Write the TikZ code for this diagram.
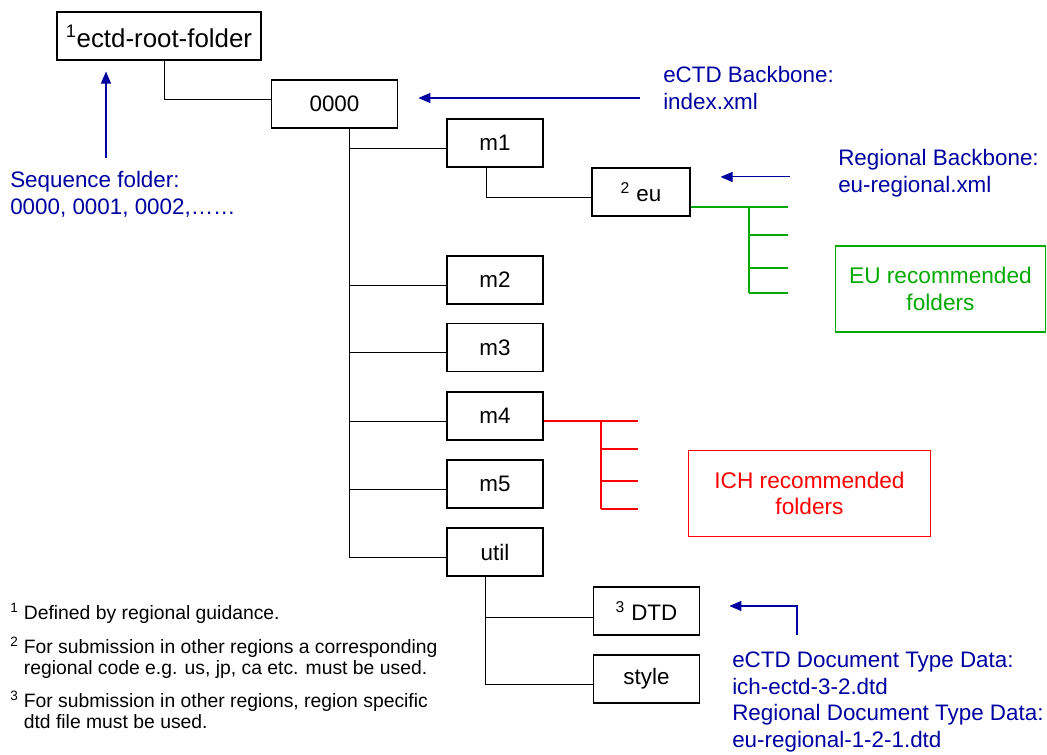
\documentclass[tikz,border=0pt]{standalone}
\usepackage{fontspec}
\setmainfont{Liberation Sans}
\usetikzlibrary{arrows.meta,positioning,calc}

\definecolor{notecol}{RGB}{0,0,160}
\definecolor{eucol}{RGB}{0,170,0}
\definecolor{ichcol}{RGB}{255,0,0}

\begin{document}
\begin{tikzpicture}[
    x=0.75pt, y=-0.75pt,
    folder/.style={rectangle, draw, line width=0.8pt, minimum height=36pt, inner sep=0pt, font=\fontsize{16.8}{19}\selectfont},
    mbox/.style={folder, minimum width=72pt},
    note/.style={anchor=west, align=left, inner sep=0pt, text=notecol, font=\fontsize{16.8}{20}\selectfont},
    pointer/.style={draw=notecol, line width=0.8pt, -{Triangle[length=9pt,width=7.5pt]}},
    tree/.style={line width=0.7pt},
    eutree/.style={draw=eucol, line width=0.9pt},
    ichtree/.style={draw=ichcol, line width=0.9pt},
    group/.style={rectangle, draw, line width=0.8pt, align=center, font=\fontsize{17}{20}\selectfont},
    foot/.style={anchor=west, align=left, inner sep=0pt, font=\fontsize{14.5}{15.75}\selectfont}
  ]
  \useasboundingbox (0,0) rectangle (1047,755);

  % folder boxes
  \node[folder, minimum width=153pt, font=\fontsize{19.4}{22}\selectfont] (root) at (159,36) {\textsuperscript{1}ectd-root-folder};
  \node[folder, minimum width=95pt] (seq) at (334.5,104) {0000};
  \node[mbox] (m1) at (495,143) {m1};
  \node[mbox] (m2) at (495,280) {m2};
  \node[mbox] (m3) at (495,347.5) {m3};
  \node[mbox] (m4) at (495,416) {m4};
  \node[mbox] (m5) at (495,484) {m5};
  \node[mbox] (util) at (495,552) {util};
  \node[folder, minimum width=73.5pt] (eu) at (641,192) {\textsuperscript{2} eu};
  \node[folder, minimum width=80pt] (dtd) at (646.5,611) {\textsuperscript{3} DTD};
  \node[folder, minimum width=80pt] (style) at (646.5,679) {style};

  % recommended sub-folder groups
  \node[group, draw=eucol, text=eucol, minimum width=157pt, minimum height=64.5pt] (eugroup) at (940.5,289) {EU recommended\\folders};
  \node[group, draw=ichcol, text=ichcol, minimum width=182pt, minimum height=65pt] (ichgroup) at (809.5,493.5) {ICH recommended\\folders};

  % tree lines
  \coordinate (trunk) at ($(seq.south)+(14.5,0)$);
  \draw[tree] ([xshift=3.75pt]root.south) |- ([yshift=3.75pt]seq.west);
  \foreach \f in {m1,m2,m3,m4,m5,util}
    \draw[tree] (trunk) |- ([yshift=-3.75pt]\f.west);
  \draw[tree] ([xshift=-6.75pt]m1.south) |- ([yshift=-3.75pt]eu.west);
  \draw[tree] ([xshift=-7.5pt]util.south) |- ([yshift=-5pt]dtd.west);
  \draw[tree] ([xshift=-7.5pt]util.south) |- ([yshift=-3.75pt]style.west);

  % eu sub-folders
  \coordinate (eufork) at (749,207);
  \draw[eutree] (eu.east |- eufork) -- (eufork) -- ++(0,86);
  \foreach \dy in {0,28,61,86}
    \draw[eutree] (eufork) ++(0,\dy) -- ++(39,0);

  % m4 sub-folders
  \coordinate (ichfork) at (601,421);
  \draw[ichtree] (m4.east |- ichfork) -- (ichfork) -- ++(0,88);
  \foreach \dy in {0,28,60,88}
    \draw[ichtree] (ichfork) ++(0,\dy) -- ++(37,0);

  % notes
  \node[note] (backbone) at (663,88) {eCTD Backbone:\\index.xml};
  \node[note] (regional) at (838,173.5) {Regional Backbone:\\eu-regional.xml};
  \node[note] (seqnote) at (10,194) {Sequence folder:\\0000, 0001, 0002,……};
  \node[note] (dtdnote) at (732,702) {eCTD Document Type Data:\\ich-ectd-3-2.dtd\\Regional Document Type Data:\\eu-regional-1-2-1.dtd};

  \draw[pointer, shorten <=17.25pt, shorten >=15pt] ([yshift=-7.5pt]backbone.west) -- ([yshift=-7.5pt]backbone.west -| seq.east);
  \draw[pointer, shorten <=36pt, shorten >=22.5pt] ([yshift=-2.6pt]regional.west) -- ([yshift=-2.6pt]regional.west -| eu.east);
  \coordinate (seqtail) at (106,158);
  \draw[pointer, shorten >=8.25pt] (seqtail) -- (seqtail |- root.south);
  \coordinate (dtdtail) at (797,635);
  \draw[pointer] (dtdtail) |- ([xshift=21.75pt,yshift=3.75pt]dtd.east);

  % footnotes
  \node[foot] (fn1) at (10,613) {\textsuperscript{1} Defined by regional guidance.};
  \node[foot] (fn2) at (10,657.5) {\textsuperscript{2} For submission in other regions a corresponding\\\phantom{\textsuperscript{2}} regional code e.g. us, jp, ca etc. must be used.};
  \node[foot] (fn3) at (10,710) {\textsuperscript{3} For submission in other regions, region specific\\\phantom{\textsuperscript{3}} dtd file must be used.};
\end{tikzpicture}
\end{document}
